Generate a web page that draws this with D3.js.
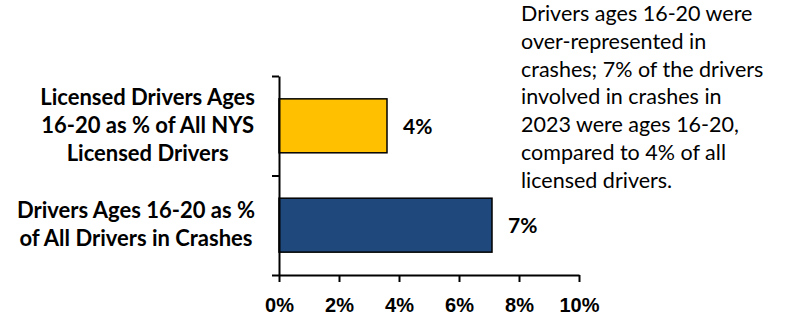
<!DOCTYPE html>
<html>
<head>
<meta charset="utf-8">
<script src="https://cdn.jsdelivr.net/npm/d3@7"></script>
<style>
  body { margin: 0; background: #fff; }
  svg { display: block; font-family: Lato, "Open Sans", sans-serif; }
</style>
</head>
<body>
<div id="chart"></div>
<script>
(function () {
    "use strict";

    //--------------------------------------------------------------------------
    // Data
    //--------------------------------------------------------------------------
    var categories = [
        "Licensed Drivers Ages 16-20 as % of All NYS Licensed Drivers",
        "Drivers Ages 16-20 as % of All Drivers in Crashes"
    ];
    var categoryLines = [
        ["Licensed Drivers Ages", "16-20 as % of All NYS", "Licensed Drivers"],
        ["Drivers Ages 16-20 as %", "of All Drivers in Crashes"]
    ];
    var values = [3.6, 7.1];
    var valueLabels = ["4%", "7%"];
    var barColors = ["#FFC000", "#1F497D"];
    var xTicks = [0, 2, 4, 6, 8, 10];
    var note = [
        "Drivers ages 16-20 were",
        "over-represented in",
        "crashes; 7% of the drivers",
        "involved in crashes in",
        "2023 were ages 16-20,",
        "compared to 4% of all",
        "licensed drivers."
    ];

    //--------------------------------------------------------------------------
    // Layout
    //--------------------------------------------------------------------------
    var width = 786, height = 318;
    var plot = { left: 279, right: 579, top: 76, bottom: 275 };

    var svg = d3.select("#chart").append("svg")
        .attr("width", width)
        .attr("height", height);

    var x = d3.scaleLinear().domain([0, 10]).range([plot.left, plot.right]);
    var y = d3.scaleBand().domain(categories)
        .range([plot.top, plot.bottom])
        .paddingInner(0.457)
        .paddingOuter(0.23);
    // band edges, for the y-axis ticks that sit between categories
    var yEdge = d3.scaleLinear().domain([0, categories.length]).range([plot.top, plot.bottom]);

    //--------------------------------------------------------------------------
    // Bars
    //--------------------------------------------------------------------------
    svg.selectAll(".bar")
        .data(values)
        .enter().append("rect")
        .attr("class", "bar")
        .attr("x", x(0))
        .attr("y", function (d, i) { return y(categories[i]); })
        .attr("width", function (d) { return x(d) - x(0); })
        .attr("height", y.bandwidth())
        .attr("fill", function (d, i) { return barColors[i]; })
        .attr("stroke", "#000")
        .attr("stroke-width", 1.5);

    svg.selectAll(".val")
        .data(values)
        .enter().append("text")
        .attr("class", "val")
        .attr("x", function (d) { return x(d) + 16; })
        .attr("y", function (d, i) { return y(categories[i]) + y.bandwidth() / 2 + 8; })
        .attr("font-size", 21)
        .attr("font-weight", "bold")
        .attr("fill", "#000")
        .text(function (d, i) { return valueLabels[i]; });

    //--------------------------------------------------------------------------
    // Axes
    //--------------------------------------------------------------------------
    var xAxis = svg.append("g")
        .attr("transform", "translate(0," + plot.bottom + ")")
        .call(d3.axisBottom(x).tickValues(xTicks).tickSize(7).tickSizeOuter(0)
            .tickFormat(function (d) { return d + "%"; }));
    xAxis.selectAll("text")
        .attr("y", 25)
        .attr("dy", "0.6em")
        .attr("font-size", 20)
        .attr("font-weight", "bold")
        .attr("fill", "#000")
        .attr("font-family", null);

    svg.append("g")
        .attr("transform", "translate(" + plot.left + ",0)")
        .call(d3.axisLeft(yEdge).tickValues([0, 1, 2]).tickSize(7).tickSizeOuter(0).tickFormat(""));

    svg.selectAll(".domain, .tick line")
        .attr("stroke", "#000")
        .attr("stroke-width", 2);

    //--------------------------------------------------------------------------
    // Category labels (centered block, widest line ending near the axis)
    //--------------------------------------------------------------------------
    var lineH = 28;
    categoryLines.forEach(function (lines, i) {
        var cy = y(categories[i]) + y.bandwidth() / 2;
        var t = svg.append("text")
            .attr("class", "cat")
            .attr("font-size", 22)
            .attr("font-weight", "bold")
            .attr("fill", "#000")
            .attr("text-anchor", "middle");
        var first = cy - (lines.length - 1) * lineH / 2 + 7;
        lines.forEach(function (line, j) {
            t.append("tspan").attr("x", 0).attr("y", first + j * lineH).text(line);
        });
        var maxW = 0;
        t.selectAll("tspan").each(function () {
            maxW = Math.max(maxW, this.getComputedTextLength());
        });
        t.selectAll("tspan").attr("x", 255 - maxW / 2);
    });

    //--------------------------------------------------------------------------
    // Note
    //--------------------------------------------------------------------------
    var noteText = svg.append("text")
        .attr("font-size", 21.5)
        .attr("fill", "#000");
    note.forEach(function (line, j) {
        noteText.append("tspan").attr("x", 521).attr("y", 21 + j * 27.8).text(line);
    });
})();
</script>
</body>
</html>
